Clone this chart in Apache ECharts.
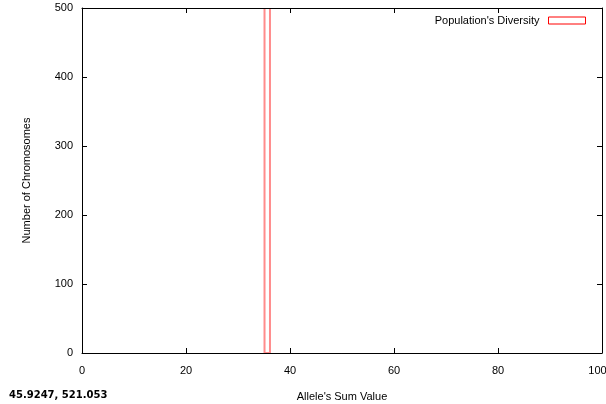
<!DOCTYPE html>
<html><head><meta charset="utf-8">
<script src="https://cdn.jsdelivr.net/npm/echarts@6/dist/echarts.min.js"></script>
<style>html,body{margin:0;padding:0;background:#fff}#c{width:606px;height:404px}</style>
</head><body><div id="c"></div>
<script>
const seriesName = "Population's Diversity";
const binStart = [35.1];
const binEnd = [36.15];
const counts = [500];
const xTicks = [0, 20, 40, 60, 80, 100];
const yTicks = [0, 100, 200, 300, 400, 500];
const xTitle = "Allele's Sum Value";
const yTitle = "Number of Chromosomes";
const readout = "45.9247, 521.053";

const font = 'Liberation Sans, Arial, sans-serif';
const chart = echarts.init(document.getElementById('c'), null, {renderer: 'canvas'});
const data = binStart.map((s, i) => [s, binEnd[i], counts[i]]);
const xMax = xTicks[xTicks.length - 1];
const axisCommon = {
  axisLine: {show: true, onZero: false, lineStyle: {color: '#000', width: 1}},
  axisTick: {show: true, inside: true, length: 5, lineStyle: {color: '#000'}},
  splitLine: {show: false},
  z: 5
};
chart.setOption({
  animation: false,
  backgroundColor: '#fff',
  textStyle: {fontFamily: font},
  grid: {left: 82, right: 4, top: 8, bottom: 51, containLabel: false, outerBoundsMode: 'none'},
  legend: {
    show: true, right: 15, top: 10, align: 'right',
    itemWidth: 37, itemHeight: 7, itemGap: 0,
    textStyle: {fontFamily: font, fontSize: 11, color: '#000', padding: [0, 4, 0, 0]},
    data: [{name: seriesName, icon: 'rect', itemStyle: {color: 'rgba(0,0,0,0)', borderColor: '#ff0000', borderWidth: 1}}]
  },
  xAxis: [
    Object.assign({type: 'value', position: 'bottom', min: xTicks[0], max: xMax, interval: 20,
      name: xTitle, nameLocation: 'middle', nameGap: 38,
      nameTextStyle: {fontFamily: font, fontSize: 11, color: '#000'},
      axisLabel: {fontFamily: font, fontSize: 11, color: '#000', margin: 12,
        formatter: function (v) { return v === xMax ? '{e|' + v + '}' : String(v); },
        rich: {e: {fontFamily: font, fontSize: 11, color: '#000', padding: [0, 9, 0, 0]}}}}, axisCommon),
    Object.assign({type: 'value', position: 'top', min: xTicks[0], max: xMax, interval: 20,
      axisLabel: {show: false}}, axisCommon)
  ],
  yAxis: [
    Object.assign({type: 'value', position: 'left', min: yTicks[0], max: yTicks[yTicks.length - 1], interval: 100,
      name: yTitle, nameLocation: 'middle', nameGap: 50, nameRotate: 90,
      nameTextStyle: {fontFamily: font, fontSize: 11, color: '#000'},
      axisLabel: {fontFamily: font, fontSize: 11, color: '#000', margin: 9}}, axisCommon),
    Object.assign({type: 'value', position: 'right', min: yTicks[0], max: yTicks[yTicks.length - 1], interval: 100,
      axisLabel: {show: false}}, axisCommon)
  ],
  series: [{
    name: seriesName,
    type: 'custom',
    z: 1,
    clip: true,
    itemStyle: {color: 'rgba(0,0,0,0)', borderColor: '#ff0000'},
    renderItem: function (params, api) {
      const p0 = api.coord([api.value(0), 0]);
      const p1 = api.coord([api.value(1), api.value(2)]);
      return {
        type: 'rect',
        shape: {x: p0[0], y: p1[1], width: p1[0] - p0[0], height: p0[1] - p1[1]},
        style: {fill: 'none', stroke: '#ff8c8c', lineWidth: 2}
      };
    },
    encode: {x: [0, 1], y: 2},
    data: data
  }],
  graphic: [{
    type: 'text', left: 9, top: 390,
    style: {text: readout, font: 'bold 10px DejaVu Sans, sans-serif', fill: '#000'}
  }]
});
</script></body></html>
